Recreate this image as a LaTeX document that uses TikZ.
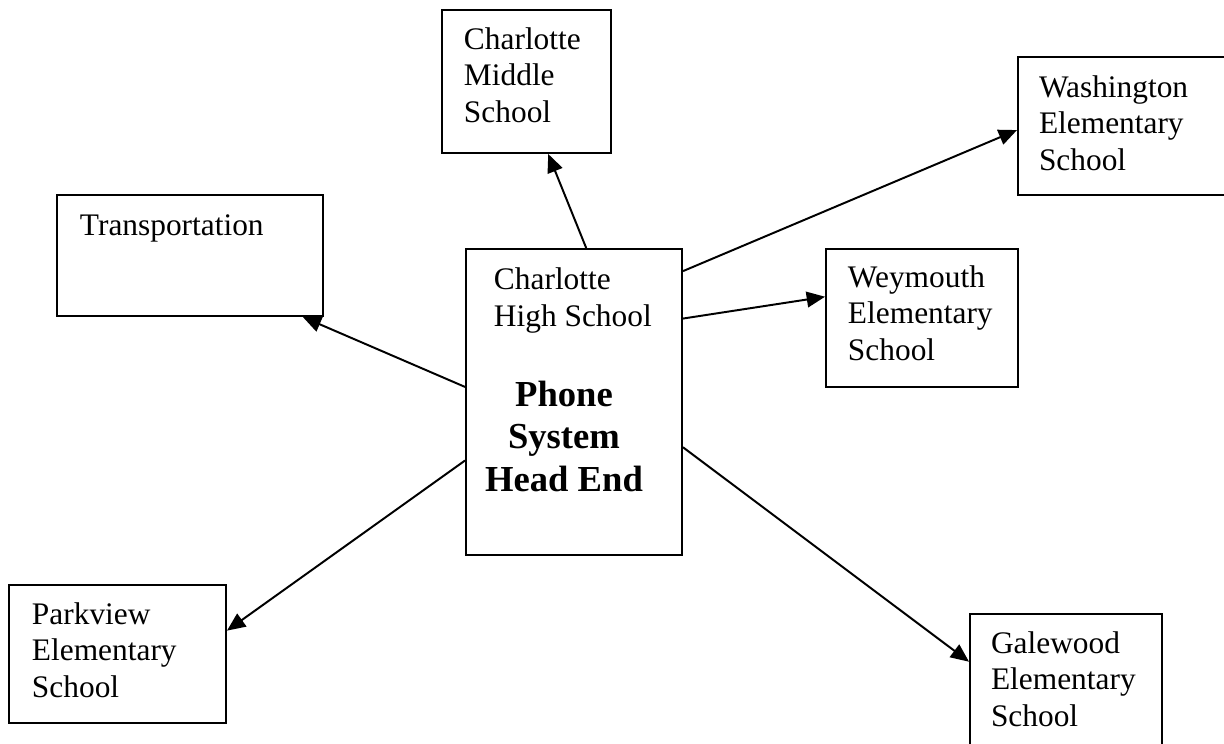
\documentclass[tikz,border=0pt]{standalone}
\usepackage{fontspec}
\setmainfont{Liberation Serif}
\usetikzlibrary{arrows.meta,calc,fit}

\begin{document}
\begin{tikzpicture}[x=0.38235bp, y=-0.38235bp, line width=0.75bp,
    box/.style={draw, rectangle, inner sep=0pt},
    lbl/.style={anchor=base west, align=left, inner sep=0pt, font=\fontsize{12bp}{13.8bp}\selectfont},
    big/.style={anchor=base, align=center, inner sep=0pt, font=\fontsize{14bp}{16.1bp}\selectfont\bfseries},
    link/.style={-{Triangle[length=7bp,width=6bp]}}]
    \useasboundingbox (0,0) rectangle (1224,743);

    % head end in the middle (text placed at its last baseline)
    \node[box, fit={(466,249) (682,555)}] (ctr) {};
    \node[lbl] (ctrtxt) at (493,326) {Charlotte\\High School};
    \node[big] (head) at (564,491) {Phone\\System\\Head End};

    % the sites round it
    \node[box, fit={(442,10) (611,153)}] (mid) {};
    \node[lbl] (midtxt) at (463,122) {Charlotte\\Middle\\School};

    \node[box, fit={(1018,57) (1232,195)}] (wash) {};
    \node[lbl] (washtxt) at (1038,170) {Washington\\Elementary\\School};

    \node[box, fit={(57,195) (323,316)}] (trans) {};
    \node[lbl] (transtxt) at (79,235) {Transportation};

    \node[box, fit={(826,249) (1018,387)}] (wey) {};
    \node[lbl] (weytxt) at (847,360) {Weymouth\\Elementary\\School};

    \node[box, fit={(9,585) (226,723)}] (park) {};
    \node[lbl] (parktxt) at (31,697) {Parkview\\Elementary\\School};

    \node[box, fit={(970,614) (1162,750)}] (gale) {};
    \node[lbl] (galetxt) at (990,726) {Galewood\\Elementary\\School};

    % links
    \draw[link] ($(ctr.north west)!0.556!(ctr.north east)$) -- ($(mid.south west)!0.627!(mid.south east)$);
    \draw[link] ($(ctr.north east)!0.075!(ctr.south east)$) -- ($(wash.north west)!0.529!(wash.south west)$);
    \draw[link] ($(ctr.north east)!0.229!(ctr.south east)$) -- ($(wey.north west)!0.348!(wey.south west)$);
    \draw[link] ($(ctr.north west)!0.451!(ctr.south west)$) -- ($(trans.south west)!0.921!(trans.south east)$);
    \draw[link] ($(ctr.north west)!0.690!(ctr.south west)$) -- ($(park.north east)!0.333!(park.south east)$);
    \draw[link] ($(ctr.north east)!0.647!(ctr.south east)$) -- ($(gale.north west)!0.353!(gale.south west)$);
\end{tikzpicture}
\end{document}
